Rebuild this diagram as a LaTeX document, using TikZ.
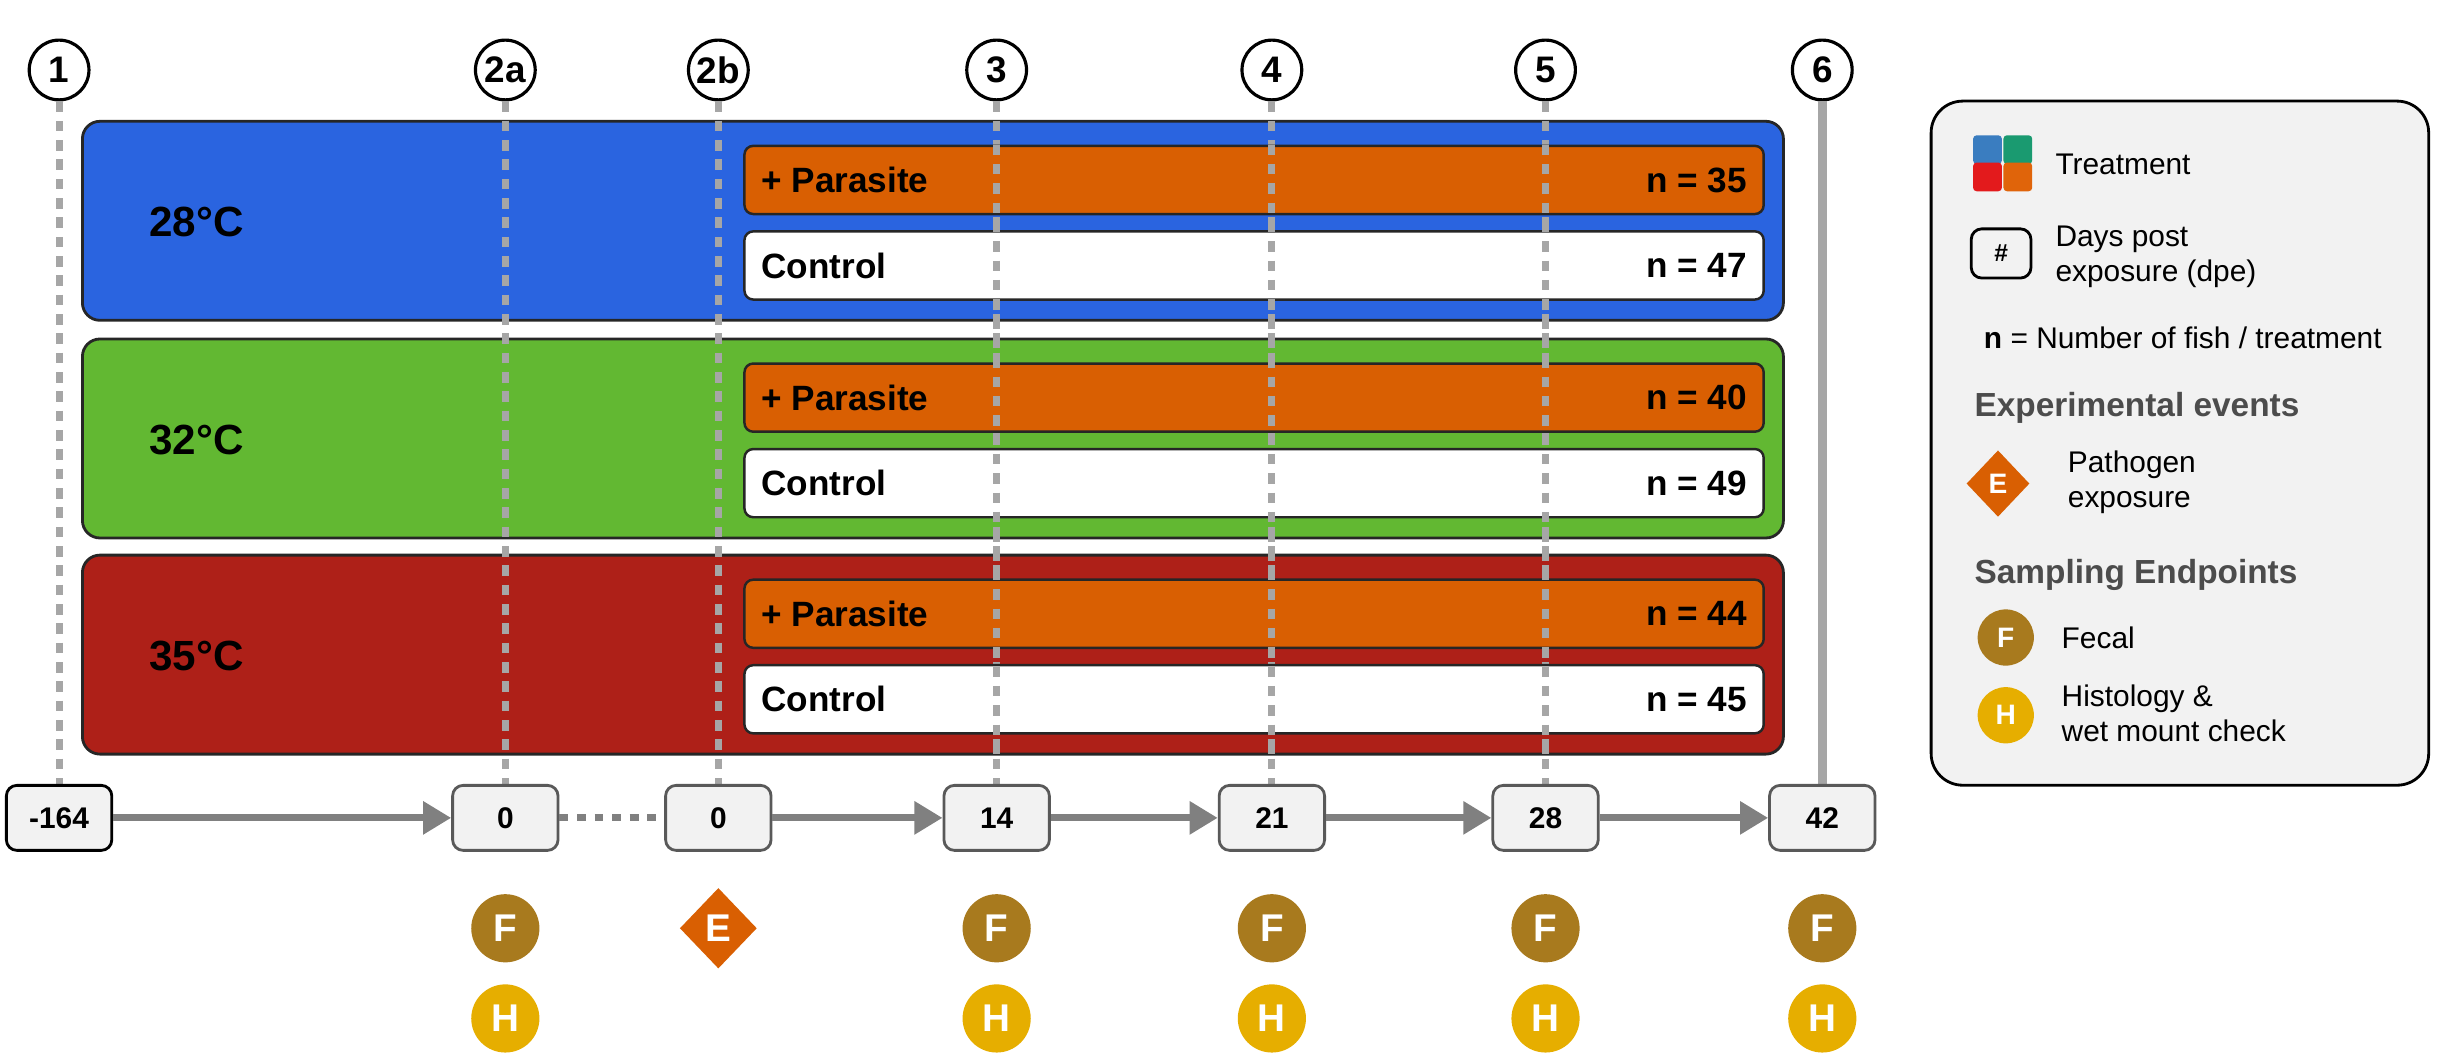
\documentclass[tikz,border=0pt]{standalone}
\usepackage{fontspec}
\setmainfont{Liberation Sans}
\usetikzlibrary{arrows.meta,shapes.geometric,positioning}
\definecolor{tblue}{HTML}{2A64E0}
\definecolor{tgreen}{HTML}{62B832}
\definecolor{tred}{HTML}{AE2018}
\definecolor{torange}{HTML}{D95F02}
\definecolor{fecal}{HTML}{A87A1E}
\definecolor{histo}{HTML}{E6AE00}
\definecolor{paper}{HTML}{F2F2F2}
\definecolor{lgray}{HTML}{A6A6A6}
\definecolor{agray}{HTML}{808080}
\definecolor{icb}{HTML}{3A7DC0}
\definecolor{ict}{HTML}{1A9A70}
\definecolor{icr}{HTML}{E31A1C}
\definecolor{ico}{HTML}{E0640A}
\tikzset{
  stepnum/.style={circle, draw, line width=0.9pt, fill=white, minimum size=17pt, inner sep=0, font=\bfseries\fontsize{10.5}{10.5}\selectfont},
  daybox/.style={rounded corners=3pt, draw=black!65, line width=0.8pt, fill=paper, minimum width=30pt, minimum height=18.5pt, inner sep=0, font=\bfseries\fontsize{8.5}{8.5}\selectfont},
  panel/.style={rounded corners=5pt, draw=black!85, line width=0.8pt},
  bar/.style={rounded corners=2.5pt, draw=black!85, line width=0.7pt, minimum width=290pt, minimum height=19.4pt, inner sep=0},
  marker/.style={circle, minimum size=19.4pt, inner sep=0, text=white, font=\bfseries\fontsize{11}{11}\selectfont},
  guide/.style={lgray, line width=2pt, dash pattern=on 3pt off 2.5pt},
  flow/.style={agray, line width=2pt, -{Triangle[length=8pt,width=9pt]}},
  legtxt/.style={anchor=west, font=\fontsize{8.5}{10}\selectfont, align=left},
  leghead/.style={anchor=west, font=\bfseries\fontsize{9.5}{10}\selectfont, text=black!70},
  bartxt/.style={font=\bfseries\fontsize{10}{10}\selectfont}
}
\begin{document}
\begin{tikzpicture}[x=0.015548cm, y=-0.015548cm]
\useasboundingbox (0,0) rectangle (1568,678);

% Panels
\foreach \t/\col/\y in {28/tblue/78, 32/tgreen/218, 35/tred/357}{
  \draw[panel, fill=\col] (53,\y) rectangle (1147,\y+128);
  \node[anchor=west, font=\bfseries\fontsize{12}{12}\selectfont] at (88,\y+65) {\t°C};
}
% Step markers
\foreach \name/\lab/\x in {s1/1/38, s2a/2a/325, s2b/2b/462, s3/3/641, s4/4/818, s5/5/994, s6/6/1172}{
  \node[stepnum] (\name) at (\x,45) {\lab};
}
\foreach \name in {s1,s2a,s2b,s3,s4,s5}{
  \draw[guide] (\name.south) -- (\name.south |- 0,505);
}
\draw[lgray, line width=2.5pt] (s6.south) -- (s6.south |- 0,505);

% Treatment bars
\foreach \y/\np/\nc in {78/35/47, 218/40/49, 357/44/45}{
  \node[bar, fill=torange, anchor=north west] (p\y) at (478,\y+15) {};
  \node[bartxt, anchor=west] at (p\y.west) {\,+ Parasite};
  \node[bartxt, anchor=east] at (p\y.east) {n = \np\,};
  \node[bar, fill=white, anchor=north west] (c\y) at (478,\y+70) {};
  \node[bartxt, anchor=west] at (c\y.west) {\,Control};
  \node[bartxt, anchor=east] at (c\y.east) {n = \nc\,};
}
% guides over the bars
\foreach \name in {s3,s4,s5}{
  \draw[guide] (\name.south |- 0,93) -- (\name.south |- 0,485);
}

% Timeline
\node[daybox, draw=black] (d1) at (38,526) {-164};
\foreach \name/\lab/\x in {d2a/0/325, d2b/0/462, d3/14/641, d4/21/818, d5/28/994, d6/42/1172}{
  \node[daybox] (\name) at (\x,526) {\lab};
}
\draw[flow] (d1) -- (d2a);
\draw[agray, line width=2pt, dash pattern=on 2.5pt off 2.5pt] (d2a) -- (d2b);
\draw[flow] (d2b) -- (d3);
\draw[flow] (d3) -- (d4);
\draw[flow] (d4) -- (d5);
\draw[flow] (d5) -- (d6);

% Sampling markers
\foreach \x in {325,641,818,994,1172}{
  \node[marker, fill=fecal] at (\x,597) {F};
  \node[marker, fill=histo] at (\x,655) {H};
}
\node[diamond, fill=torange, minimum width=22pt, minimum height=23pt, inner sep=0, text=white, font=\bfseries\fontsize{11}{11}\selectfont] (exp) at (462,597) {E};

% Legend
\draw[rounded corners=9pt, line width=0.8pt, fill=paper] (1242,65) rectangle (1562,505);
\fill[icb, rounded corners=1pt] (1269,87) rectangle (1287.5,105.5);
\fill[ict, rounded corners=1pt] (1288.5,87) rectangle (1307,105.5);
\fill[icr, rounded corners=1pt] (1269,104.5) rectangle (1287.5,123);
\fill[ico, rounded corners=1pt] (1288.5,104.5) rectangle (1307,123);
\node[legtxt] at (1314,106) {Treatment};
\node[daybox, draw=black, fill=none, minimum width=17pt, minimum height=14pt, font=\bfseries\fontsize{7}{7}\selectfont] (lday) at (1287,163) {\#};
\node[legtxt] at (1314,165) {Days post\\exposure (dpe)};
\node[legtxt] at (1268,217) {\textbf{n} = Number of fish / treatment};
\node[leghead] at (1262,262) {Experimental events};
\node[diamond, fill=torange, minimum width=18pt, minimum height=19pt, inner sep=0, text=white, font=\bfseries\fontsize{8}{8}\selectfont] (lexp) at (1285,311) {E};
\node[legtxt] at (1322,310) {Pathogen\\exposure};
\node[leghead] at (1262,370) {Sampling Endpoints};
\node[marker, fill=fecal, minimum size=16pt, font=\bfseries\fontsize{8}{8}\selectfont] (lf) at (1290,410) {F};
\node[legtxt] at (1318,410) {Fecal};
\node[marker, fill=histo, minimum size=16pt, font=\bfseries\fontsize{8}{8}\selectfont] (lh) at (1290,460) {H};
\node[legtxt] at (1318,459) {Histology \&\\wet mount check};
\end{tikzpicture}
\end{document}
